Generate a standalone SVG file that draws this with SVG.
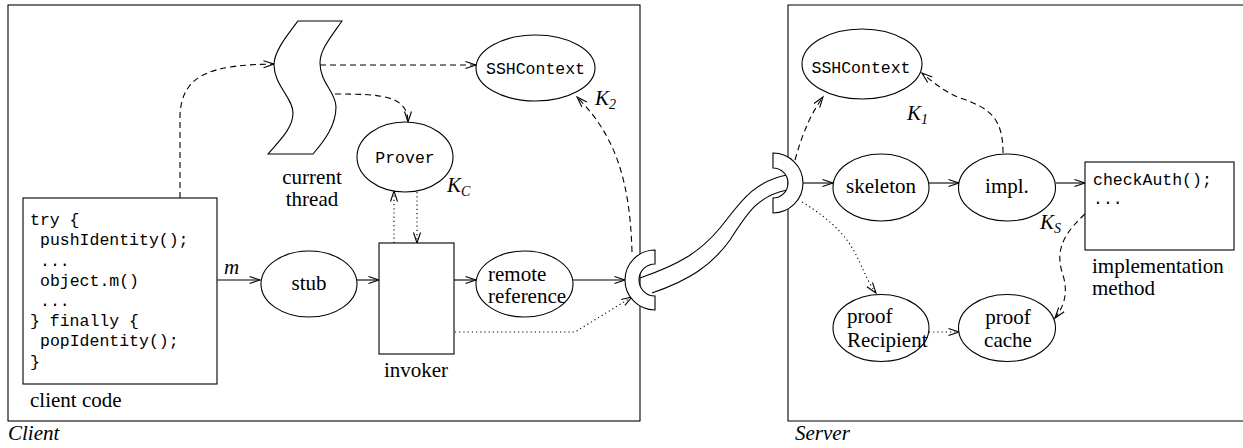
<svg xmlns="http://www.w3.org/2000/svg" width="1243" height="448" viewBox="0 0 1243 448">
<style>
.ln{fill:none;stroke:#000;stroke-width:1.1}
.sh{fill:#fff;stroke:#000;stroke-width:1.1}
.da{fill:none;stroke:#000;stroke-width:1.1;stroke-dasharray:6 4}
.do{fill:none;stroke:#000;stroke-width:1.1;stroke-dasharray:1.2 3}
.ar{marker-end:url(#ah)}
</style>
<defs>
<marker id="ah" markerUnits="userSpaceOnUse" markerWidth="12" markerHeight="9" refX="10.5" refY="3.5" orient="auto" overflow="visible">
<path d="M0,0 L10.5,3.5 L0,7" fill="none" stroke="#000" stroke-width="1.1"/>
</marker>
</defs>
<rect width="1243" height="448" fill="#fff"/>
<g font-family="Liberation Serif, DejaVu Serif, serif" font-size="21" fill="#000">

<g id="client-box">
<rect x="8" y="5" width="632" height="416" class="ln"/>
<text x="8" y="440" font-style="italic">Client</text>
</g>
<g id="server-box">
<path d="M1250,5 L788,5 L788,421 L1250,421" class="ln"/>
<text x="795" y="440" font-style="italic">Server</text>
</g>

<g id="connectors">
<path d="M180,198 L180,115 C182,72 215,65 274,64" class="da ar"/>
<path d="M320,65 L476,65" class="da ar"/>
<path d="M335,94 C380,94 408,95 408,122" class="da ar"/>
<path d="M394,243 L394,191" class="do ar"/>
<path d="M417,192 L417,243" class="do ar"/>
<path d="M217,280 L260,280" class="ln ar"/>
<path d="M357,280 L379,280" class="ln ar"/>
<path d="M454,280 L476,280" class="ln ar"/>
<path d="M573,280 L625,280" class="ln ar"/>
<path d="M455,332 L575,332 L632,297" class="do ar"/>
<path d="M632,252 C630,180 615,135 577,97" class="da ar"/>
<path d="M803,183 L833,183" class="ln ar"/>
<path d="M929,183 L959,183" class="ln ar"/>
<path d="M1056,183 L1085,183" class="ln ar"/>
<path d="M795,160 C802,135 810,115 823,97" class="da ar"/>
<path d="M1003,153 C1003,118 990,108 960,98 C945,92 935,84 922,73" class="da ar"/>
<path d="M802,202 C835,222 850,240 860,263 C866,276 870,285 876,293" class="do ar"/>
<path d="M929,332 L959,332" class="do ar"/>
<path d="M1085,214 C1062,235 1055,252 1063,275 C1068,292 1065,305 1055,318" class="da ar"/>
</g>

<g id="cable">
<path d="M640,278 C680,264 700,252 720,228 C740,203 752,182 787,175" class="ln"/>
<path d="M652,293 C690,280 712,265 730,240 C748,212 758,196 787,190" class="ln"/>
</g>
<g id="client-socket">
<path d="M655,250 A30,30 0 0 0 655,310 L655,296 A16,16 0 0 1 655,264 Z" class="sh"/>
</g>
<g id="server-socket">
<path d="M773,153 A30,30 0 0 1 773,213 L773,198 A15,15 0 0 0 773,168 Z" class="sh"/>
</g>

<g id="current-thread">
<path d="M298,21 L342,21 C330,38 320,50 320,63 C320,83 336,92 336,107 C336,125 325,140 313,154 L268,154 C280,140 293,128 293,113 C293,98 274,85 274,65 C274,52 285,38 298,21 Z" class="sh"/>
<text x="312" y="184" text-anchor="middle">current</text>
<text x="312" y="206" text-anchor="middle">thread</text>
</g>

<g id="client-code">
<rect x="23" y="198" width="194" height="186" class="sh"/>
<text font-family="Liberation Mono, DejaVu Sans Mono, monospace" font-size="16.5">
<tspan x="30" y="225">try {</tspan>
<tspan x="40" y="245">pushIdentity();</tspan>
<tspan x="40" y="265.5">...</tspan>
<tspan x="40" y="285.5">object.m()</tspan>
<tspan x="40" y="306">...</tspan>
<tspan x="30" y="326">} finally {</tspan>
<tspan x="40" y="346">popIdentity();</tspan>
<tspan x="30" y="366.5">}</tspan>
</text>
<text x="30" y="407">client code</text>
</g>

<g id="m-label"><text x="224" y="274" font-style="italic">m</text></g>

<g id="stub">
<ellipse cx="309" cy="284" rx="48" ry="33" class="sh"/>
<text x="309" y="290" text-anchor="middle">stub</text>
</g>

<g id="invoker">
<rect x="379" y="243" width="75" height="111" class="sh"/>
<text x="416" y="377" text-anchor="middle">invoker</text>
</g>

<g id="prover">
<ellipse cx="405" cy="157" rx="48" ry="35" class="sh"/>
<text x="405" y="163" font-family="Liberation Mono, DejaVu Sans Mono, monospace" font-size="16.5" text-anchor="middle">Prover</text>
<text x="447" y="192" font-style="italic">K<tspan font-size="14" dy="4">C</tspan></text>
</g>

<g id="ssh-client">
<ellipse cx="535.5" cy="68" rx="59.5" ry="33" class="sh"/>
<text x="535.5" y="73.5" font-family="Liberation Mono, DejaVu Sans Mono, monospace" font-size="16.5" text-anchor="middle">SSHContext</text>
<text x="595" y="105" font-style="italic">K<tspan font-size="14" dy="4">2</tspan></text>
</g>

<g id="remote-reference">
<ellipse cx="524.5" cy="284" rx="48.5" ry="33" class="sh"/>
<text x="488" y="281">remote</text>
<text x="488" y="303">reference</text>
</g>

<g id="ssh-server">
<ellipse cx="862" cy="64" rx="60" ry="35" class="sh"/>
<text x="861" y="73" font-family="Liberation Mono, DejaVu Sans Mono, monospace" font-size="16.5" text-anchor="middle">SSHContext</text>
<text x="907" y="120" font-style="italic">K<tspan font-size="14" dy="4">1</tspan></text>
</g>

<g id="skeleton">
<ellipse cx="881" cy="187.5" rx="48" ry="33.5" class="sh"/>
<text x="881" y="193" text-anchor="middle">skeleton</text>
</g>

<g id="impl">
<ellipse cx="1007" cy="187.5" rx="48.5" ry="33.5" class="sh"/>
<text x="1007" y="193" text-anchor="middle">impl.</text>
</g>

<g id="implementation-method">
<rect x="1085" y="162" width="149" height="88" class="sh"/>
<text x="1093" y="185" font-family="Liberation Mono, DejaVu Sans Mono, monospace" font-size="16.5">checkAuth();</text>
<text x="1093" y="204" font-family="Liberation Mono, DejaVu Sans Mono, monospace" font-size="16.5">...</text>
<text x="1092" y="273">implementation</text>
<text x="1092" y="295">method</text>
<text x="1040" y="229" font-style="italic">K<tspan font-size="14" dy="4">S</tspan></text>
</g>

<g id="proof-recipient">
<ellipse cx="881" cy="328" rx="48" ry="33.5" class="sh"/>
<text x="847" y="323">proof</text>
<text x="847" y="347">Recipient</text>
</g>

<g id="proof-cache">
<ellipse cx="1007" cy="328" rx="48.5" ry="33.5" class="sh"/>
<text x="1008" y="324" text-anchor="middle">proof</text>
<text x="1008" y="347" text-anchor="middle">cache</text>
</g>
</g>
</svg>
